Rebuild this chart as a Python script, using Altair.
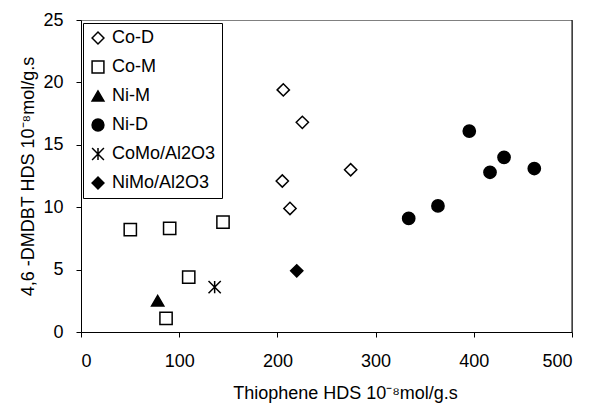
import altair as alt
import pandas as pd

FONT = "Liberation Sans"

series_names = ["Co-D", "Co-M", "Ni-M", "Ni-D", "CoMo/Al2O3", "NiMo/Al2O3"]

# Thiophene HDS rate (x) and 4,6-DMDBT HDS rate (y), 10^-8 mol/g.s
co_d_x = [206.0, 225.4, 274.6, 205.0, 212.8]
co_d_y = [19.4, 16.8, 13.0, 12.1, 9.9]

co_m_x = [50.2, 90.3, 144.6, 109.7, 86.6]
co_m_y = [8.2, 8.3, 8.8, 4.4, 1.1]

ni_m_x = [78.1]
ni_m_y = [2.5]

ni_d_x = [333.7, 363.5, 395.4, 416.5, 430.8, 461.6]
ni_d_y = [9.1, 10.1, 16.1, 12.8, 14.0, 13.1]

como_x = [136.1]
como_y = [3.6]

nimo_x = [219.7]
nimo_y = [4.9]

x_ticks = [0, 100, 200, 300, 400, 500]
y_ticks = [0, 5, 10, 15, 20, 25]

groups = [
    ("Co-D", co_d_x, co_d_y),
    ("Co-M", co_m_x, co_m_y),
    ("Ni-M", ni_m_x, ni_m_y),
    ("Ni-D", ni_d_x, ni_d_y),
    ("CoMo/Al2O3", como_x, como_y),
    ("NiMo/Al2O3", nimo_x, nimo_y),
]
rows = []
for name, xs, ys in groups:
    for xv, yv in zip(xs, ys):
        rows.append({"series": name, "thiophene": xv, "dmdbt": yv})
df = pd.DataFrame(rows)

asterisk = "M-1,-1L1,1M1,-1L-1,1M0,-1L0,1"
shapes = ["diamond", "square", "triangle-up", "circle", asterisk, "diamond"]
fills = ["white", "white", "black", "black", "black", "black"]
strokes = ["black"] * 6

W, H = 491, 312

points = alt.Chart(df).mark_point(
    filled=True, strokeWidth=1.5, size=150, opacity=1
).encode(
    x=alt.X(
        "thiophene:Q",
        scale=alt.Scale(domain=[0, 500], nice=False, zero=False),
        axis=alt.Axis(
            values=x_ticks, title="Thiophene HDS 10⁻⁸mol/g.s", grid=False,
            titleX=264, titlePadding=14, labelPadding=15,
        ),
    ),
    y=alt.Y(
        "dmdbt:Q",
        scale=alt.Scale(domain=[0, 25], nice=False),
        axis=alt.Axis(
            values=y_ticks, title="4,6 -DMDBT HDS 10⁻⁸mol/g.s", grid=False,
            titlePadding=5, labelPadding=13,
        ),
    ),
    shape=alt.Shape(
        "series:N",
        scale=alt.Scale(domain=series_names, range=shapes),
        legend=alt.Legend(title=None),
    ),
    fill=alt.Fill(
        "series:N",
        scale=alt.Scale(domain=series_names, range=fills),
        legend=alt.Legend(title=None),
    ),
    stroke=alt.Stroke(
        "series:N",
        scale=alt.Scale(domain=series_names, range=strokes),
        legend=alt.Legend(title=None),
    ),
)

# right frame edge
right_edge = alt.Chart(pd.DataFrame({"k": [0]})).mark_rule(
    color="black", strokeWidth=1
).encode(x=alt.value(W), y=alt.value(0), y2=alt.value(H))

chart = alt.layer(points, right_edge).properties(
    width=W,
    height=H,
    autosize=alt.AutoSizeParams(type="none"),
    padding={"left": 81, "top": 20, "right": 20, "bottom": 73},
    background="white",
).configure_view(
    stroke="#808080", strokeWidth=1
).configure_axis(
    domainColor="black",
    tickColor="black",
    tickSize=5,
    labelFont=FONT,
    labelFontSize=18,
    labelColor="black",
    titleFont=FONT,
    titleFontSize=18,
    titleFontWeight="normal",
    titleColor="black",
).configure_legend(
    orient="none",
    legendX=2,
    legendY=3,
    strokeColor="black",
    fillColor="white",
    padding=6,
    labelFont=FONT,
    labelFontSize=18,
    labelColor="black",
    labelOffset=5,
    symbolSize=140,
    symbolStrokeWidth=1.5,
    rowPadding=11,
)

chart.save("out.html", embed_options={"renderer": "svg", "actions": False})
